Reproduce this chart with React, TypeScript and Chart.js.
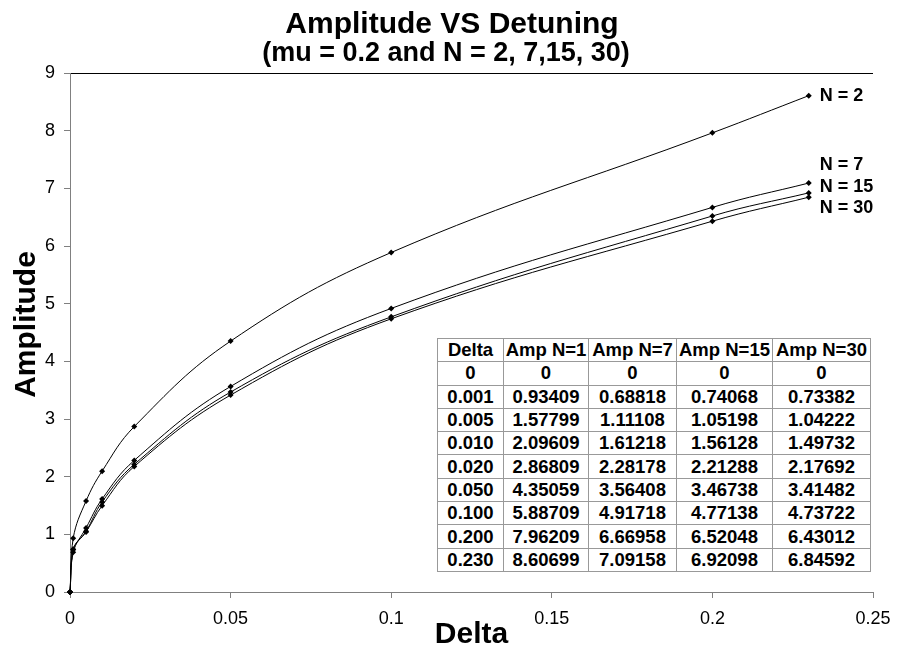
import React, { useEffect, useRef } from "react";
import { Chart, registerables } from "chart.js";

Chart.register(...registerables);

// ---------- data ----------
const delta = [0, 0.001, 0.005, 0.01, 0.02, 0.05, 0.1, 0.2, 0.23];
const ampN2 = [0, 0.93409, 1.57799, 2.09609, 2.86809, 4.35059, 5.88709, 7.96209, 8.60699];
const ampN7 = [0, 0.68818, 1.11108, 1.61218, 2.28178, 3.56408, 4.91718, 6.66958, 7.09158];
const ampN15 = [0, 0.74068, 1.05198, 1.56128, 2.21288, 3.46738, 4.77138, 6.52048, 6.92098];
const ampN30 = [0, 0.73382, 1.04222, 1.49732, 2.17692, 3.41482, 4.73722, 6.43012, 6.84592];
const seriesNames = ["N = 2", "N = 7", "N = 15", "N = 30"];
const tableHeaders = ["Delta", "Amp N=1", "Amp N=7", "Amp N=15", "Amp N=30"];
const xTicks = [0, 0.05, 0.1, 0.15, 0.2, 0.25];
const yTicks = [0, 1, 2, 3, 4, 5, 6, 7, 8, 9];
const titleLines = ["Amplitude VS Detuning", "(mu = 0.2 and N = 2, 7,15, 30)"];
const xTitle = "Delta";
const yTitle = "Amplitude";

const seriesValues = [ampN2, ampN7, ampN15, ampN30];

// ---------- styles ----------
const FONT = '"Liberation Sans", Arial, Helvetica, sans-serif';
const W = 904;
const H = 650;
const labelOffsetY = [0, -18, -6, 11];
const colWidths = [66, 85, 88, 96, 98];
const ROW_H = 23.3;
const GRID_COLOR = "#999";

const fmtDelta = (d: number) => (d === 0 ? "0" : d.toFixed(3));
const fmtAmp = (v: number) => (v === 0 ? "0" : v.toFixed(5));

const endLabelsPlugin = {
  id: "endLabels",
  afterDatasetsDraw(chart: any) {
    const ctx = chart.ctx;
    ctx.save();
    ctx.font = `bold 18px ${FONT}`;
    ctx.fillStyle = "#000";
    ctx.textAlign = "left";
    ctx.textBaseline = "middle";
    chart.data.datasets.forEach((ds: any, i: number) => {
      const meta = chart.getDatasetMeta(i);
      const last = meta.data[meta.data.length - 1];
      if (!last) return;
      ctx.fillText(ds.label, last.x + 11, last.y + labelOffsetY[i]);
    });
    ctx.restore();
  },
};

const titlePlugin = {
  id: "customTitle",
  afterDraw(chart: any) {
    const ctx = chart.ctx;
    ctx.save();
    ctx.fillStyle = "#000";
    ctx.textAlign = "center";
    ctx.textBaseline = "alphabetic";
    ctx.font = `bold 30px ${FONT}`;
    ctx.fillText(titleLines[0], 452, 33);
    ctx.font = `bold 27px ${FONT}`;
    ctx.fillText(titleLines[1], 446, 61);
    // y-axis title
    const area = chart.chartArea;
    ctx.font = `bold 30px ${FONT}`;
    ctx.translate(27, (area.top + area.bottom) / 2 - 8);
    ctx.rotate(-Math.PI / 2);
    ctx.textBaseline = "middle";
    ctx.fillText(yTitle, 0, 0);
    ctx.restore();
  },
};

export default function App() {
  const canvasRef = useRef<HTMLCanvasElement | null>(null);

  useEffect(() => {
    const canvas = canvasRef.current;
    if (!canvas) return;
    const chart = new Chart(canvas, {
      type: "line",
      data: {
        datasets: seriesValues.map((vals, i) => ({
          label: seriesNames[i],
          data: delta.map((d, j) => ({ x: d, y: vals[j] })),
          borderColor: "#000",
          borderWidth: 1,
          backgroundColor: "#000",
          pointStyle: "rectRot",
          pointRadius: 3,
          pointBackgroundColor: "#000",
          pointBorderColor: "#000",
          pointBorderWidth: 0,
          tension: 0.4,
          fill: false,
          clip: false,
        })),
      },
      options: {
        responsive: false,
        animation: false,
        devicePixelRatio: 1,
        layout: { padding: { top: 73, right: 31, left: 0, bottom: 0 } },
        plugins: {
          legend: { display: false },
          tooltip: { enabled: false },
          title: { display: false },
        },
        scales: {
          x: {
            type: "linear",
            min: 0,
            max: 0.25,
            afterBuildTicks: (scale: any) => {
              scale.ticks = xTicks.map((v) => ({ value: v }));
            },
            afterFit: (scale: any) => {
              scale.height = 58;
            },
            ticks: {
              color: "#000",
              font: { family: FONT, size: 18 },
              padding: 10,
              maxRotation: 0,
              callback: (v: any) => String(v),
            },
            grid: {
              drawOnChartArea: false,
              tickLength: 6,
              tickColor: "#808080",
            },
            border: { color: "#808080", width: 1 },
            title: {
              display: true,
              text: xTitle,
              color: "#000",
              font: { family: FONT, size: 30, weight: "bold", lineHeight: 1 },
              padding: { top: 0, bottom: 0 },
            },
          },
          y: {
            type: "linear",
            min: 0,
            max: 9,
            afterBuildTicks: (scale: any) => {
              scale.ticks = yTicks.map((v) => ({ value: v }));
            },
            afterFit: (scale: any) => {
              scale.width = 70;
            },
            ticks: {
              color: "#000",
              font: { family: FONT, size: 18 },
              padding: 9,
              callback: (v: any) => String(v),
            },
            grid: {
              color: (c: any) => (c.tick && c.tick.value === 9 ? "#000" : "rgba(0,0,0,0)"),
              tickColor: "#808080",
              tickLength: 6,
              lineWidth: 1,
            },
            border: { color: "#808080", width: 1 },
            title: { display: false },
          },
        },
      },
      plugins: [endLabelsPlugin, titlePlugin],
    } as any);
    return () => chart.destroy();
  }, []);

  const cellStyle: React.CSSProperties = {
    borderRight: `1px solid ${GRID_COLOR}`,
    borderBottom: `1px solid ${GRID_COLOR}`,
    boxSizing: "border-box",
    display: "flex",
    alignItems: "center",
    justifyContent: "center",
    whiteSpace: "nowrap",
    lineHeight: "20px",
    overflow: "hidden",
  };

  const rows: string[][] = [
    tableHeaders,
    ...delta.map((d, j) => [fmtDelta(d), ...seriesValues.map((vals) => fmtAmp(vals[j]))]),
  ];

  return (
    <div
      style={{
        position: "fixed",
        left: 0,
        top: 0,
        width: W,
        height: H,
        background: "#fff",
        overflow: "hidden",
      }}
    >
      <canvas ref={canvasRef} width={W} height={H} style={{ display: "block", width: W, height: H }} />
      <div
        style={{
          position: "absolute",
          left: 437,
          top: 338,
          display: "grid",
          gridTemplateColumns: colWidths.map((w) => `${w}px`).join(" "),
          gridTemplateRows: `repeat(${rows.length}, ${ROW_H}px)`,
          borderLeft: `1px solid ${GRID_COLOR}`,
          borderTop: `1px solid ${GRID_COLOR}`,
          background: "#fff",
          fontFamily: FONT,
          fontWeight: "bold",
          fontSize: 18.5,
          color: "#000",
        }}
      >
        {rows.map((r, j) =>
          r.map((txt, i) => (
            <div key={`${j}-${i}`} style={cellStyle}>
              {txt}
            </div>
          ))
        )}
      </div>
    </div>
  );
}
